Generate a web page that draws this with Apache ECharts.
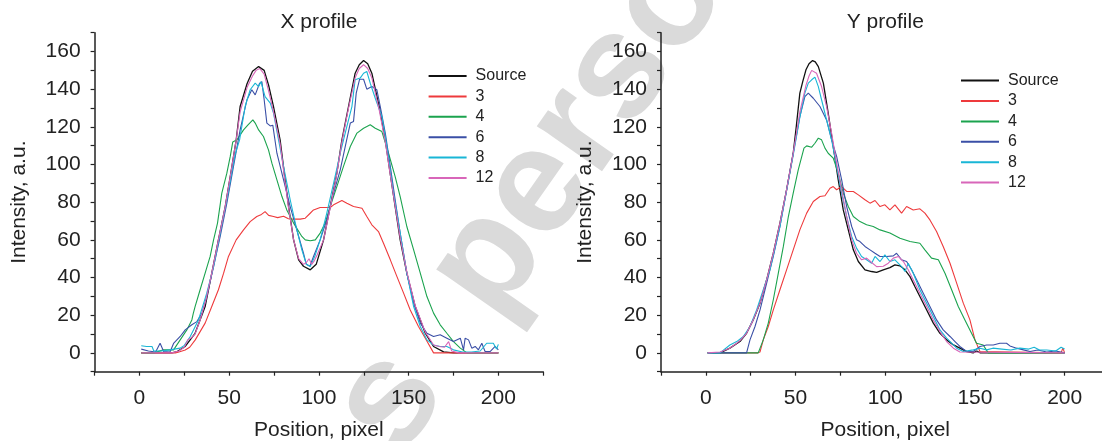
<!DOCTYPE html>
<html><head><meta charset="utf-8">
<script src="https://cdn.jsdelivr.net/npm/echarts@6/dist/echarts.min.js"></script>
<style>html,body{margin:0;padding:0;background:#fff}#c{width:1102px;height:441px}</style>
</head><body><div id="c"></div>
<script>
// ---------- Data: X profile ----------
const seriesNames = ['Source', '3', '4', '6', '8', '12'];
const xTickLabels = [0, 50, 100, 150, 200];
const yTickLabels = [0, 20, 40, 60, 80, 100, 120, 140, 160];

const xpSrcX = [1,10,18,21,25.5,31,36.6,40.3,44,47.8,51,53.9,56.1,60,63,66.4,69.5,72,74.7,78.4,80.7,83.1,85.9,88.7,91.4,95.2,98.5,102.6,106.3,110,112.8,116.5,120.2,122.5,124.9,127.2,129.5,133.6,137,139.7,142.5,145.3,149,153.7,159.3,163.9,169.5,175,200];
const xpSrcY = [0,0,0,0.7,3.4,10.4,24.6,42.3,60,77.7,96,113,130.8,143,149.5,152,150,142,130.8,113,95.4,77.7,60,49.4,46,44.1,47,60,77.7,95.4,113,130.8,148.5,153,155.2,153.5,148.5,130.8,113,95.4,77.7,60,42.3,24.6,10.4,3.4,0.5,0,0];

const xp3X = [1,10,20,22,25.5,28,31.1,36.6,40.3,44,46.9,49.6,53.9,58,61.7,65.4,68,70,72,74.7,77,80.3,83,86,89.6,92.4,95,97,100.7,106.3,108.2,112.8,115.6,119.3,124,126.7,129.5,133.2,136,139.8,143.5,147.2,150.9,155.5,159.3,163.9,200];
const xp3Y = [0,0,0,0.5,1.5,3,6.9,15.8,24.6,33.5,42.3,51.2,60,65.3,69.7,72.4,73.5,75,73,72.4,71.8,72.5,71.2,71,71,71.5,74,75.9,77.2,77.2,78.6,80.9,79.5,77.7,76.8,72.4,68,64.4,58.2,49.4,40.5,31.7,22.8,14,7.8,0,0];

const xp4X = [1,8,13.4,19,22.7,26.4,29.2,30,31,33.8,36.6,39.4,41.3,43.5,45.9,48.7,50.6,52,54.3,58,60.5,63.2,64.5,66.4,69.1,71.9,73.8,76.6,79.4,82.1,85.9,90.5,92.4,95.2,98,100.7,103.5,106.3,110,113.7,117.5,121.2,124.9,128.6,131.4,135.1,138.8,142.5,145.3,149,152.8,156.5,160.2,163.9,167.6,171.3,175,178.8,182.5,200];
const xp4Y = [0,0,1.6,1.6,6.9,12.2,17.5,21,24.6,33.5,42.3,51.2,60,68.9,84.8,95.4,104.3,112,113.1,118.4,121,123.7,122,118.4,114.9,107.8,100.7,91.9,83,75.9,68.9,61.8,60,59.5,60,63.6,68.9,77.7,88.3,99,109.6,116.7,119.3,121.1,119.3,117.5,106,93.6,83,67.1,54.7,42.3,29.9,21.1,14.9,10.4,6,2.5,0,0];

const xp6X = [1,5,9,11.5,13.5,17,19,22.7,25.5,29.2,32,34.8,37.5,41.3,45,48.7,52.4,56.1,59.9,62.6,64.5,66.9,68.2,69.5,71,72.9,74.3,76.6,80.3,84,87.7,91.4,93,95,97,100.7,104.4,108.2,111.9,114.7,117.5,119.3,120.8,122.7,124.9,126.7,129.5,132.3,134.2,137,139.8,142.5,145.3,149,152.8,156.5,160.2,163.9,167.6,171.3,175,178.8,180.6,181.5,183.4,185.2,187.1,188.9,190.8,192.6,195.4,198.2,200];
const xp6Y = [2,1,0.5,5.1,0.7,0.5,5,8.7,12.2,14.9,16.6,21,30,45.8,61.8,79.5,99,118.4,134.4,139.7,137,143,144,134.4,122,120.5,120.9,106,91.9,77.7,65.3,52.9,47,46,51.2,60,70.6,84.8,97.2,109.6,122,122.9,137.9,145.3,145.3,140,141.4,139.7,130.8,116.7,99,81.3,63.6,42.3,26.4,15.8,10.4,8.7,9.6,7.8,6,7.8,1.6,7.8,6.9,2.5,3.4,1.6,5.1,0.7,0.7,3.4,1.6];

const xp8X = [1,4,7,8,12,17,22.7,25,28.3,32.9,37.5,41.3,45,48.7,52.4,53.5,55.8,58.9,61.7,64.5,66.4,67.7,70,72.9,74.7,77.5,80.3,84,87.7,90.5,93,95.2,98,100.7,104.4,108.2,111.9,115.6,118.4,120.2,123,124.9,126.7,128.6,131.4,135.1,137.9,141.6,145.3,149,152.8,156.5,160.2,163.9,167.6,171.3,175,180,185,189.9,193.5,197.2,199,200];
const xp8Y = [3.8,3.4,3.4,1,1,1.6,2.5,4,8.7,17.5,31.7,45.8,63.6,81.3,100.7,106,113.1,130.8,139.7,143.2,141.4,144,136.1,132.6,127.3,113.1,99,81.3,65.3,54.7,47,45.8,52,60,74.2,90.1,106,120.2,130.8,145,145.9,148.5,149.4,143.2,135.2,125.5,109.6,84.8,63.6,42.3,24.6,14,6.9,4.2,3.4,3.4,1.6,0.5,0.5,1,5.1,5.1,2,4.5];

const xp12X = [1,10,18,22,25,27,29,31,34,37,40.3,44,47.8,51,53.9,56.1,60,63,65,67,69.5,72,74.7,78.4,80.7,83.1,85.9,88.7,91.4,93,94.5,96,97.5,99,102.6,106.3,110,112.8,116.5,120.2,122.5,124.9,127.2,129.5,133.6,137,139.7,142.5,145.3,149,153.7,159.3,163.9,167,170,172.3,174,178,200];
const xp12Y = [0,0,0,1,3,7,8,10,18,28,42.3,60,77.7,96,113,128,141,147,150,151,148,139,128,111,94,77,60,50,47,48,50,47,49,52,60,77,95,112,130,146,151,153,151,146,129,112,95,78,61,43,25,11,4.2,3.4,3,6,1,0,0];

// ---------- Data: Y profile ----------
const ypSrcX = [1,7.9,13.4,19,22.7,26.4,30.2,33.9,37.6,41.3,45,48.7,50.5,52.4,54,55.8,57.5,59.5,61,62.7,65.5,68.2,71,73.8,76.6,79.4,82.2,85,88.7,92.4,95.2,98.9,102.6,105.4,108.2,111,113.8,116.5,119.3,123.1,126.8,130.5,134.2,138,141.6,145.4,149,151,153,200];
const ypSrcY = [0,0,2.5,6,10.4,17.5,26.4,38.8,52.9,68.9,86.6,106,121,137.9,144,150.3,153.5,155.2,154.5,152,143.2,127.3,109.6,91.9,75.9,65.3,54.7,48.5,44.1,43.2,42.7,44.1,45.3,46.7,46.2,44.1,40.5,35.2,29.9,22.8,15.8,10.4,6.9,4.2,2.5,0.7,0,1,0,0];

const yp3X = [1,29,30.2,32,34.8,37.6,41.3,45,48.7,52.4,56.2,59.9,63.6,66.4,69.2,71,72.9,75.7,78.5,82.2,85,88.7,91.5,94.3,97.1,99.8,102.6,105.4,109.1,111.9,115.6,119.3,122.1,124.9,128.6,132.3,136.1,139.8,143.5,147.2,150,152.8,198,199,200];
const yp3Y = [0,0,0.5,6.9,14,22.8,33.5,44.1,54.7,65.3,74.2,80.4,83,83.4,87.4,88.3,86.6,88.3,85.7,85.7,83.9,81.3,79.5,80.9,77.7,78.6,75.9,78.6,74.2,77.7,75.9,76.5,74.2,70.6,64.4,56.5,47.6,37,26.4,17.5,6.9,0.7,0,2.5,0];

const yp4X = [1,29.2,32,34.8,37.6,40.4,43.2,46,48.7,51.5,54.7,56.2,59,60.8,62.7,64.5,66.4,68.2,71,73.8,76.6,79.4,82.2,85.9,89.6,93.3,97.1,102.6,108.2,113.8,119.3,122.1,125.8,129.6,133.3,137,140.7,144.4,148.1,150.9,154.6,157.4,200];
const yp4Y = [0,0,6.9,15.8,28.2,42.3,56.5,72.4,84.8,97.2,108.7,109.9,109.2,111.3,114,113.1,108.7,106,103.4,95.4,84.8,77.7,72.4,69.7,68,67.1,65.3,63.6,60.9,59.1,58.2,54.7,50.3,49.4,42.3,33.5,24.6,17.5,10.4,5.1,4.2,0,0];

const yp6X = [1,22.7,24.6,27.4,30.2,33.9,37.6,41.3,45,48.7,52.4,55.2,57.1,59.9,63.6,67.3,70.1,72.9,75.7,78.5,81.3,84,85.9,88.7,91.5,94.3,97.1,100.8,104.5,106.3,109.1,111.9,114.7,117.5,121.2,124.9,128.6,132.3,136.1,138.9,141.6,145.4,149.1,152.8,156.5,160.2,163.9,167.6,169.5,173.2,177,180.7,185,190,195,200];
const yp6Y = [0,0,6.9,14,22.8,37,51.2,67.1,86.6,106,125.5,136.1,137.9,135.2,130.8,123.7,113.1,104.3,91.9,77.7,67.1,60,59.1,56.5,54.7,52.9,51.2,51.2,51.5,52.9,49.4,48.5,44.1,38.8,31.7,24.6,17.5,12.2,8.7,6,3.4,0.7,0.7,3.4,4.2,4.2,5.1,5.1,3.7,2.5,1.6,0.7,1.5,0.5,1,0];

const yp8X = [1,7.9,13.4,17.2,20.9,24.6,28.3,32,35.7,41.3,45,48.7,52.4,55.2,57.1,59,60.8,62.7,64.5,67.3,70.1,72.9,75.7,78.5,81.3,84,86.8,89.6,92.4,94.3,97.1,99.8,102.6,105.4,109.1,111,112.8,115.6,119.3,123.1,126.8,130.5,134.2,138,139.8,143.5,149.1,152.8,156.5,160,165,170,175,180,183,186,190,195,198,200];
const yp8Y = [0,0,4.2,6,8.7,14,22.8,33.5,44.1,67,86,105,125,138,143.2,145,146.4,141.4,134.4,123.7,113.1,99,84.8,72.4,61.8,55.6,51.2,49.4,47.6,51.2,48.5,52,48.5,49.4,45.8,43.2,47.6,42.3,33.5,26.4,19.3,12.2,7.8,4.2,2.5,0.7,1.6,2.5,1.6,2.5,2,1.5,2.5,2,3,1.5,1.5,1,3,2];

const yp12X = [1,7.9,13.4,17,19,22.7,26.4,30.2,33.9,37.6,41.3,45,48.7,52.4,55.8,57.5,59,61.7,64.5,67.3,70.1,72.9,75.7,78.5,81.3,84,86.8,89.6,92.4,95.2,98.9,101.7,104.5,107.3,110.1,112.8,115.6,119.3,123.1,126.8,130.5,134.2,138,141.6,200];
const yp12Y = [0,0.5,2.5,5,6.5,10.4,17.5,26.4,38.8,52.9,68.9,86.6,106,128,142,147,150,148.5,141.4,130.8,116.7,100.7,86.6,72.4,60,52.9,49.4,50.3,48,45.8,46,47.6,50.3,51.2,48.5,44.1,38.8,31.7,24.6,17.5,11.3,6,2.5,0.5,0];

// ---------- Build ----------
const colors = ['#111111', '#ee3a3c', '#1ba34e', '#3a4fa6', '#19b6d6', '#d866b9'];
const widths = [1.3, 1.1, 1.1, 1.1, 1.1, 1.1];
const xProfile = [[xpSrcX, xpSrcY], [xp3X, xp3Y], [xp4X, xp4Y], [xp6X, xp6Y], [xp8X, xp8Y], [xp12X, xp12Y]];
const yProfile = [[ypSrcX, ypSrcY], [yp3X, yp3Y], [yp4X, yp4Y], [yp6X, yp6Y], [yp8X, yp8Y], [yp12X, yp12Y]];
const zip = (xs, ys) => xs.map((x, i) => [x, ys[i]]);

const FONT = '"Liberation Sans", Arial, sans-serif';
const axisColor = '#222';

function xAxisCfg(gi) {
  return {
    type: 'value', gridIndex: gi, min: -25, max: 225, interval: 25,
    name: 'Position, pixel', nameLocation: 'middle', nameGap: 48,
    nameTextStyle: { fontSize: 21, color: '#222', fontFamily: FONT },
    axisLine: { show: true, onZero: false, lineStyle: { color: axisColor, width: 1.5 } },
    axisTick: { show: true, length: 4, inside: false, lineStyle: { color: axisColor, width: 1.2 } },
    axisLabel: { fontSize: 21, color: '#222', fontFamily: FONT, margin: 16, hideOverlap: false,
      formatter: v => (xTickLabels.indexOf(v) >= 0 ? String(v) : '') },
    splitLine: { show: false }
  };
}
function yAxisCfg(gi) {
  return {
    type: 'value', gridIndex: gi, min: -10, max: 170, interval: 10,
    name: 'Intensity, a.u.', nameLocation: 'middle', nameGap: 65, nameRotate: 90,
    nameTextStyle: { fontSize: 21, color: '#222', fontFamily: FONT },
    axisLine: { show: true, onZero: false, lineStyle: { color: axisColor, width: 1.5 } },
    axisTick: { show: true, length: 4, inside: false, lineStyle: { color: axisColor, width: 1.2 } },
    axisLabel: { fontSize: 21, color: '#222', fontFamily: FONT, margin: 14,
      formatter: v => (yTickLabels.indexOf(v) >= 0 ? String(v) : '') },
    splitLine: { show: false }
  };
}

const series = [];
[xProfile, yProfile].forEach((prof, gi) => {
  prof.forEach((pair, k) => {
    series.push({
      type: 'line', name: seriesNames[k], xAxisIndex: gi, yAxisIndex: gi,
      data: zip(pair[0], pair[1]), symbol: 'none', showSymbol: false,
      lineStyle: { color: colors[k], width: widths[k] },
      itemStyle: { color: colors[k] }, silent: true, z: 2 + k
    });
  });
});

function legendCfg(left, top) {
  return {
    orient: 'vertical', left: left, top: top, padding: 0,
    itemWidth: 38, itemHeight: 2, itemGap: 4.4, selectedMode: false,
    icon: 'rect',
    data: seriesNames,
    textStyle: { fontSize: 16, color: '#222', fontFamily: FONT, padding: [0, 0, 0, 4] }
  };
}

const chart = echarts.init(document.getElementById('c'), null, { renderer: 'canvas' });
chart.setOption({
  animation: false,
  backgroundColor: '#fff',
  title: [
    { text: 'X profile', left: 318.9, top: 12, textAlign: 'center', padding: 0,
      textStyle: { fontSize: 21, fontWeight: 'normal', color: '#222', fontFamily: FONT } },
    { text: 'Y profile', left: 885.3, top: 12, textAlign: 'center', padding: 0,
      textStyle: { fontSize: 21, fontWeight: 'normal', color: '#222', fontFamily: FONT } }
  ],
  graphic: [{
    type: 'text', x: 366, y: 436, rotation: 55 * Math.PI / 180, z: -10, silent: true,
    style: { text: 's  perso', font: 'bold 150px ' + FONT, fill: '#dadada', textAlign: 'left', verticalAlign: 'middle' }
  }],
  legend: [legendCfg(428.6, 68), legendCfg(961, 72.6)],
  grid: [
    { left: 94.6, top: 32.7, width: 448.6, height: 339, containLabel: false, outerBoundsMode: 'none' },
    { left: 661, top: 32.7, width: 448.5, height: 339, containLabel: false, outerBoundsMode: 'none' }
  ],
  xAxis: [xAxisCfg(0), xAxisCfg(1)],
  yAxis: [yAxisCfg(0), yAxisCfg(1)],
  series: series
});
</script></body></html>
